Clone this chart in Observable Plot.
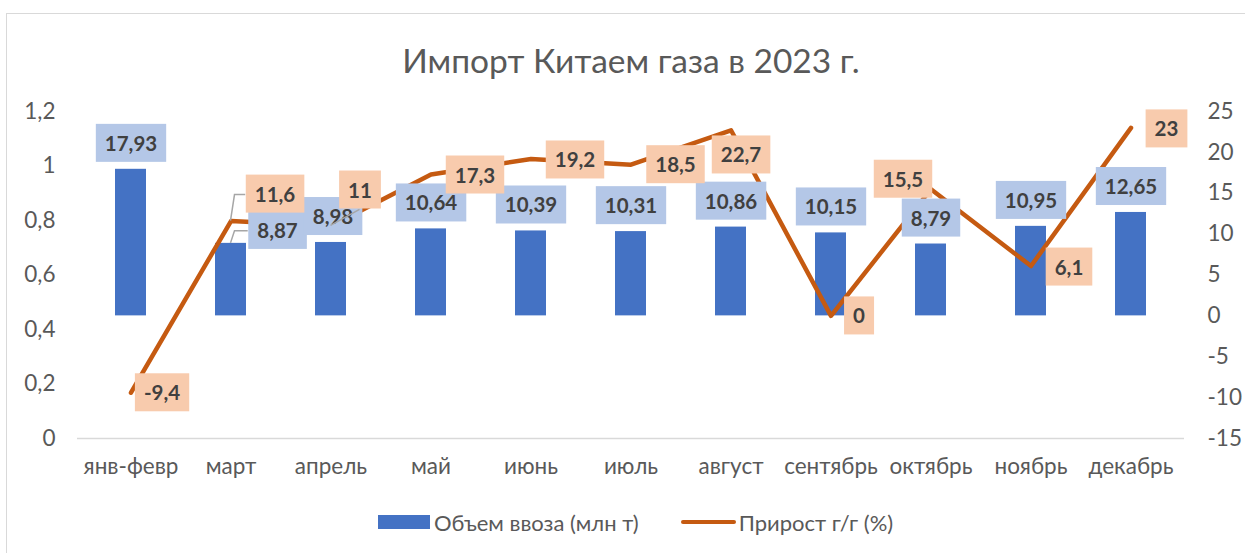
<!DOCTYPE html>
<html>
<head>
<meta charset="utf-8">
<script src="https://cdn.jsdelivr.net/npm/d3@7"></script>
<script src="https://cdn.jsdelivr.net/npm/@observablehq/plot@0.6"></script>
<style>
  body { margin: 0; background: #fff; overflow: hidden; font-family: Lato, sans-serif; }
  #wrap { position: relative; width: 1245px; height: 553px; overflow: hidden; background: #fff; }
  #border { position: absolute; left: 6px; top: 13px; width: 1400px; height: 700px;
            border-left: 1.5px solid #d9d9d9; border-top: 1.5px solid #d9d9d9; }
  #title { position: absolute; left: 0; top: 40px; width: 1262px; height: 40px; line-height: 40px;
           text-align: center; font-size: 33.5px; color: #595959; font-family: Lato, sans-serif; }
  #chart { position: absolute; left: 0; top: 85px; width: 1245px; height: 415px; }
  #legend { position: absolute; left: 378px; top: 511px; height: 22px; display: flex; align-items: center;
            font-size: 22px; color: #595959; font-family: Lato, sans-serif; white-space: nowrap; }
  .item { display: flex; align-items: center; }
  .sw-bar { width: 52px; height: 14px; background: #4472C4; margin-right: 4px; }
  .sw-line { width: 55px; height: 4.5px; border-radius: 3px; background: #C55A11; margin-right: 3px; }
</style>
</head>
<body>
<div id="wrap">
  <div id="border"></div>
  <div id="title"></div>
  <div id="chart"></div>
  <div id="legend"></div>
</div>
<script>
// ---- data ----
const chartTitle = "Импорт Китаем газа в 2023 г.";
const months = ["янв-февр", "март", "апрель", "май", "июнь", "июль", "август", "сентябрь", "октябрь", "ноябрь", "декабрь"];
const volumes = [17.93, 8.87, 8.98, 10.64, 10.39, 10.31, 10.86, 10.15, 8.79, 10.95, 12.65];
const growth = [-9.4, 11.6, 11, 17.3, 19.2, 18.5, 22.7, 0, 15.5, 6.1, 23];
const seriesNames = ["Объем ввоза (млн т)", "Прирост г/г (%)"];
const rightTicks = [-15, -10, -5, 0, 5, 10, 15, 20, 25];
const leftTickValues = [0, 0.2, 0.4, 0.6, 0.8, 1, 1.2];
const leftTickLabels = ["0", "0,2", "0,4", "0,6", "0,8", "1", "1,2"];

// ---- layout (label nudges in px, not data) ----
const barLabelNudge = [[0,-25],[46.5,-12],[2,-25],[0,-25],[0,-25],[0,-25],[0,-25],[0,-25],[0,-25],[0,-25],[0,-25]];
const lineLabelNudge = [[31,1],[44,-26],[29,-35],[44,1.5],[44,2],[44.5,1],[10,25.6],[28,1],[-28,-9],[38,2],[35.5,2]];
const leaders = [{series: "line", i: 1, kind: "elbow"}, {series: "bar", i: 1, kind: "elbow"}, {series: "line", i: 2, kind: "diag"}];

const BLUE = "#4472C4", ORANGE = "#C55A11", BLUE_BOX = "#B4C7E7", ORANGE_BOX = "#F8CBAD";
const data = months.map((m, i) => ({month: m, volume: volumes[i], growth: growth[i], i}));
const fmt = v => String(v).replace(".", ",");
const yDomain = [rightTicks[0], rightTicks[rightTicks.length - 1]];
const leftMax = leftTickValues[leftTickValues.length - 1];
const leftPos = leftTickValues.map(v => yDomain[0] + v * (yDomain[1] - yDomain[0]) / leftMax);
const leftLabelOf = new Map(leftPos.map((p, k) => [p, leftTickLabels[k]]));

document.getElementById("title").textContent = chartTitle;
document.getElementById("legend").innerHTML =
  `<div class="item"><div class="sw-bar"></div><span>${seriesNames[0]}</span></div>` +
  `<div class="item" style="margin-left:42px"><div class="sw-line"></div><span>${seriesNames[1]}</span></div>`;

const labelStyle = {fontWeight: "bold", fontSize: 20.5, fill: "#404040", fontFamily: "Lato"};
const barLabels = data.map((d, i) => Plot.text([d], {
  x: "month", y: "volume", text: d => fmt(d.volume),
  dx: barLabelNudge[i][0], dy: barLabelNudge[i][1], ...labelStyle
}));
const lineLabels = data.map((d, i) => Plot.text([d], {
  x: "month", y: "growth", text: d => fmt(d.growth),
  dx: lineLabelNudge[i][0], dy: lineLabelNudge[i][1], ...labelStyle
}));

const plot = Plot.plot({
  width: 1245, height: 415,
  marginTop: 26, marginBottom: 62, marginLeft: 77, marginRight: 61,
  style: {fontFamily: "Lato", fontSize: "22.5px", color: "#595959", background: "transparent", overflow: "visible"},
  x: {domain: months, paddingInner: 0.69, paddingOuter: 0.345, align: 0.5},
  y: {domain: yDomain},
  marks: [
    Plot.ruleY([yDomain[0]], {stroke: "#d9d9d9", strokeWidth: 1.5}),
    Plot.barY(data, {x: "month", y: "volume", fill: BLUE}),
    Plot.line(data, {x: "month", y: "growth", stroke: ORANGE, strokeWidth: 4.5, strokeLinejoin: "round", strokeLinecap: "round"}),
    ...barLabels,
    ...lineLabels,
    Plot.axisX({tickSize: 0, tickPadding: 20, label: null, fontSize: 22.5, fill: "#595959"}),
    Plot.axisY(leftPos, {anchor: "left", tickSize: 0, tickPadding: 22, label: null, tickFormat: p => leftLabelOf.get(p), fontSize: 22.5, fill: "#595959"}),
    Plot.axisY(rightTicks, {anchor: "right", tickSize: 0, tickPadding: 23, label: null, tickFormat: d => String(d), fontSize: 22.5, fill: "#595959"})
  ]
});
document.getElementById("chart").appendChild(plot);

// ---- label boxes (text mark groups appear in mark order: 11 bar labels, then 11 line labels) ----
const textGroups = Array.from(plot.querySelectorAll('g[aria-label="text"]'));
const boxInfo = {};
function boxify(groups, key, color) {
  groups.forEach((g, i) => {
    g.querySelectorAll("text").forEach(t => {
      const bb = t.getBBox();
      const w = bb.width + 18, h = 38;
      const r = document.createElementNS("http://www.w3.org/2000/svg", "rect");
      r.setAttribute("x", bb.x + bb.width / 2 - w / 2);
      r.setAttribute("y", bb.y + bb.height / 2 - h / 2);
      r.setAttribute("width", w);
      r.setAttribute("height", h);
      r.setAttribute("fill", color);
      const tr = t.getAttribute("transform");
      if (tr) r.setAttribute("transform", tr);
      t.parentNode.insertBefore(r, t);
      boxInfo[key + i] = {w, h};
    });
  });
}
boxify(textGroups.slice(0, data.length), "bar", BLUE_BOX);
boxify(textGroups.slice(data.length, 2 * data.length), "line", ORANGE_BOX);

// ---- leader lines ----
const xs = plot.scale("x"), ys = plot.scale("y");
const svg = d3.select(plot);
leaders.forEach(L => {
  const d = data[L.i];
  const ax = xs.apply(d.month) + xs.bandwidth / 2;
  const val = L.series === "bar" ? d.volume : d.growth;
  const ay = ys.apply(val);
  const nudge = (L.series === "bar" ? barLabelNudge : lineLabelNudge)[L.i];
  const cx = ax + nudge[0], cy = ay + nudge[1];
  const info = boxInfo[L.series + L.i] || {w: 50, h: 38};
  let pts;
  if (L.kind === "elbow") pts = [[ax, ay], [ax + 4, cy], [cx - info.w / 2, cy]];
  else pts = [[ax, ay], [cx, cy + info.h / 2]];
  svg.append("path").attr("d", d3.line()(pts)).attr("fill", "none")
    .attr("stroke", "#A6A6A6").attr("stroke-width", 1.5);
});
</script>
</body>
</html>
